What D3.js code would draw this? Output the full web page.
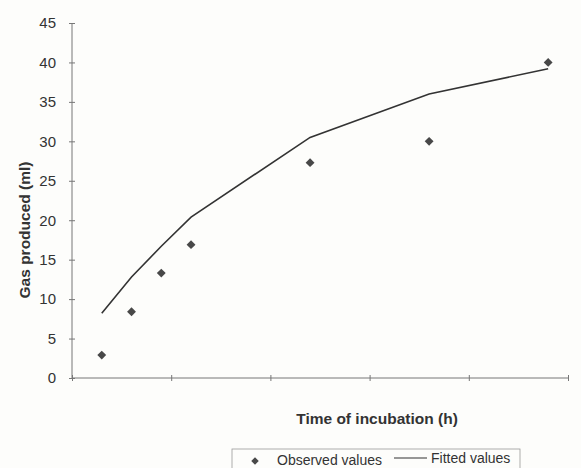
<!DOCTYPE html>
<html>
<head>
<meta charset="utf-8">
<script src="https://cdn.jsdelivr.net/npm/d3@7"></script>
<style>
  body { margin: 0; background: #fdfdfb; }
  svg { font-family: Arial, "Liberation Sans", sans-serif; }
</style>
</head>
<body>
<div class="chart"></div>
<script>
const w = 581;
const h = 468;

// incubation time (h)
const hours = [3, 6, 9, 12, 24, 36, 48];
// observed gas production (ml)
const observed = [2.9, 8.4, 13.3, 16.9, 27.3, 30.0, 40.0];
// fitted gas production (ml)
const fitted = [8.2, 12.8, 16.7, 20.4, 30.5, 36.0, 39.2];
const yTicks = [0, 5, 10, 15, 20, 25, 30, 35, 40, 45];
const xTicks = [0, 10, 20, 30, 40, 50];

const m = {top: 23, left: 72, right: 13, bottom: 90};

const svg = d3.select(".chart").append("svg")
  .attr("width", w)
  .attr("height", h);

const x = d3.scaleLinear().domain([0, 50]).range([m.left, w - m.right]);
const y = d3.scaleLinear().domain([0, 45]).range([h - m.bottom, m.top]);

// y axis
const yAxis = svg.append("g")
  .attr("transform", `translate(${m.left},0)`)
  .call(d3.axisLeft(y).tickValues(yTicks).tickSize(3).tickPadding(13));
yAxis.selectAll("line").attr("x2", 3).attr("x1", -3);
yAxis.select(".domain").attr("d", `M0,${y(0)}V${y(45)}`);

// x axis, no tick labels
const xAxis = svg.append("g")
  .attr("transform", `translate(0,${y(0)})`)
  .call(d3.axisBottom(x).tickValues(xTicks).tickFormat("").tickSize(3));
xAxis.selectAll("line").attr("y1", -3).attr("y2", 3);
xAxis.select(".domain").attr("d", `M${x(0)},0H${x(50)}`);

svg.selectAll(".domain").attr("stroke", "#777").attr("stroke-width", 1);
svg.selectAll(".tick line").attr("stroke", "#777");
yAxis.selectAll("text").attr("font-size", 15).attr("fill", "#333");

// fitted line
const line = d3.line()
  .x((d, i) => x(hours[i]))
  .y(d => y(d));
svg.append("path")
  .datum(fitted)
  .attr("fill", "none")
  .attr("stroke", "#333")
  .attr("stroke-width", 1.6)
  .attr("d", line);

// observed diamonds
const diamond = d3.symbol().type(d3.symbolDiamond2).size(50);
svg.append("g").selectAll("path")
  .data(observed)
  .enter()
  .append("path")
  .attr("d", diamond)
  .attr("transform", (d, i) => `translate(${x(hours[i])},${y(d)})`)
  .attr("fill", "#484848");

// axis titles
svg.append("text")
  .attr("x", 377)
  .attr("y", 424)
  .attr("text-anchor", "middle")
  .attr("font-size", 15.5)
  .attr("font-weight", "bold")
  .attr("fill", "#333")
  .text("Time of incubation (h)");

svg.append("text")
  .attr("transform", "translate(30,230) rotate(-90)")
  .attr("text-anchor", "middle")
  .attr("font-size", 15.5)
  .attr("font-weight", "bold")
  .attr("fill", "#333")
  .text("Gas produced (ml)");

// legend
const lg = svg.append("g").attr("transform", "translate(232,449)");
lg.append("rect")
  .attr("width", 288).attr("height", 30)
  .attr("fill", "none").attr("stroke", "#999").attr("stroke-width", 0.8);
lg.append("path")
  .attr("d", d3.symbol().type(d3.symbolDiamond2).size(36))
  .attr("transform", "translate(23,12)")
  .attr("fill", "#484848");
lg.append("text").attr("x", 45).attr("y", 16)
  .attr("font-size", 14).attr("fill", "#333").text("Observed values");
lg.append("line").attr("x1", 162).attr("x2", 195).attr("y1", 9).attr("y2", 9)
  .attr("stroke", "#333").attr("stroke-width", 1.2);
lg.append("text").attr("x", 199).attr("y", 14)
  .attr("font-size", 14).attr("fill", "#333").text("Fitted values");
</script>
</body>
</html>
